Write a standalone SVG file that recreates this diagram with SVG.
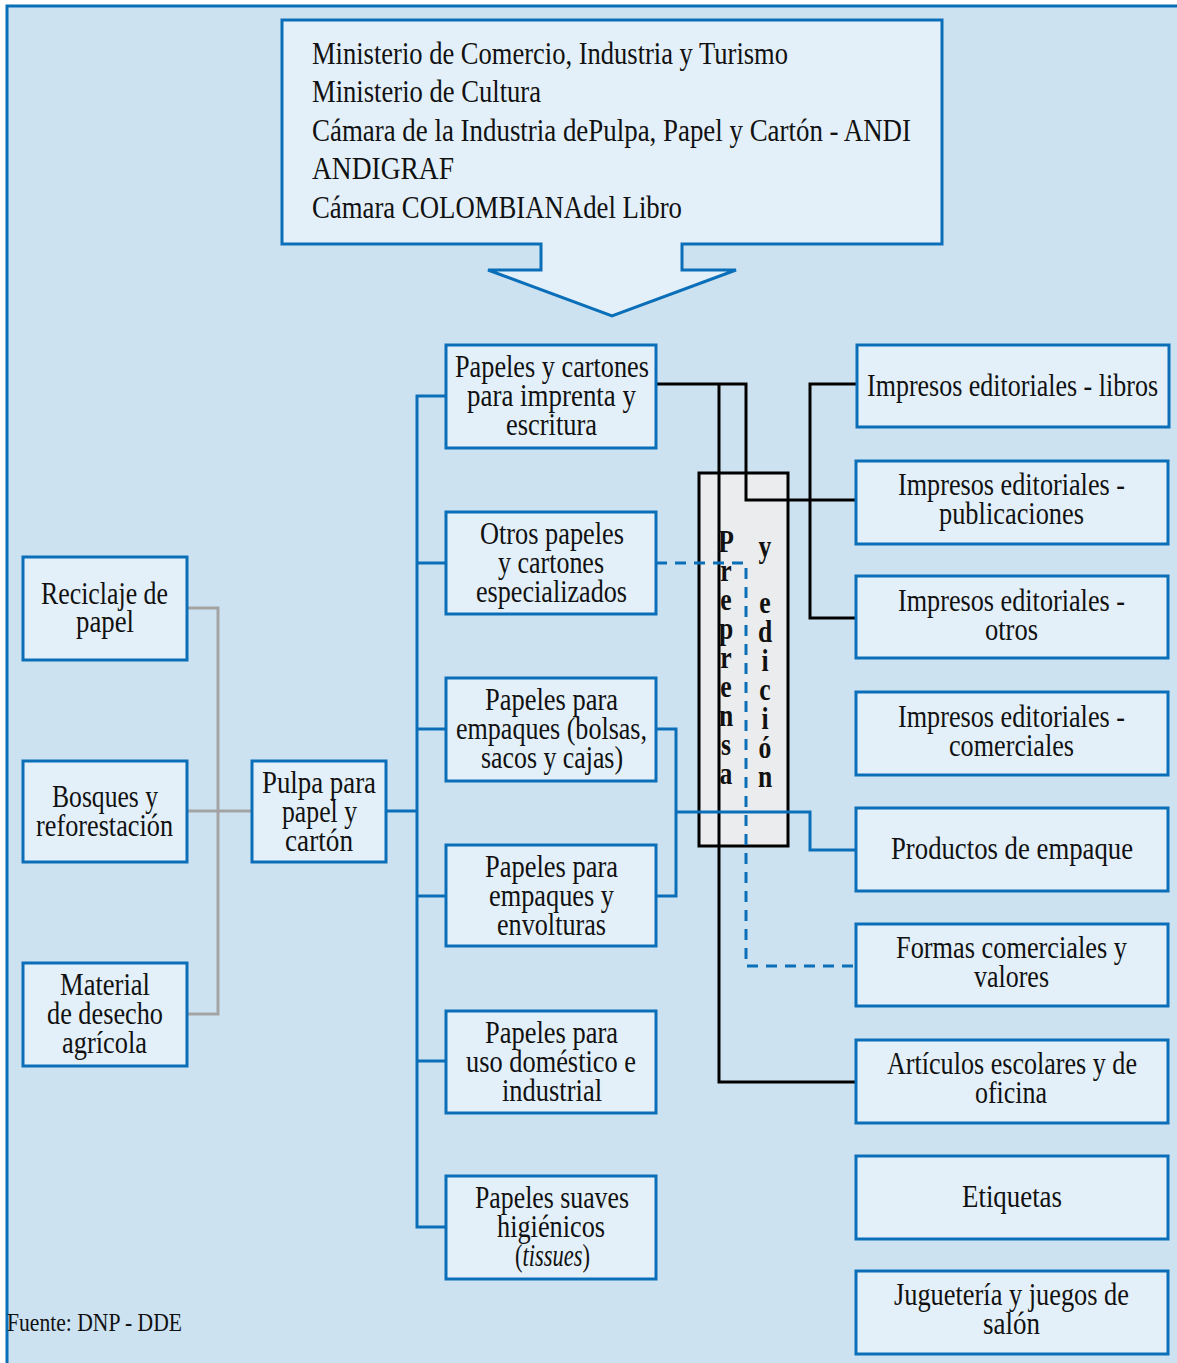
<svg xmlns="http://www.w3.org/2000/svg" width="1177" height="1363" viewBox="0 0 1177 1363">
<style>
.bg{fill:#cce2f1;stroke:#0a6fb8;stroke-width:3}
.box{fill:#e3f0f9;stroke:#0a6fb8;stroke-width:3}
.t{font-family:"Liberation Serif","Times New Roman",serif;font-size:32px;fill:#111}
.ft{font-family:"Liberation Serif","Times New Roman",serif;font-size:26px;fill:#111}
.v{font-family:"Liberation Serif","Times New Roman",serif;font-size:32px;font-weight:bold;fill:#111;text-anchor:middle}
.gray{fill:none;stroke:#a3a3a3;stroke-width:3}
.blue{fill:none;stroke:#0a6fb8;stroke-width:3}
.dash{fill:none;stroke:#0a6fb8;stroke-width:3;stroke-dasharray:11 8}
.black{fill:none;stroke:#000;stroke-width:3}
</style>
<rect x="0" y="0" width="1177" height="1363" fill="#ffffff"/>
<path class="bg" d="M7,1365 V6 H1180 V1365 Z"/>

<g id="instituciones">
<path class="box" d="M282,20 H942 V244 H682 V270 H736 L612,316 L488,270 H541 V244 H282 Z"/>
<text class="t" x="312" y="64" textLength="476" lengthAdjust="spacingAndGlyphs">Ministerio de Comercio, Industria y Turismo</text>
<text class="t" x="312" y="102" textLength="229" lengthAdjust="spacingAndGlyphs">Ministerio de Cultura</text>
<text class="t" x="312" y="141" textLength="599" lengthAdjust="spacingAndGlyphs">Cámara de la Industria dePulpa, Papel y Cartón - ANDI</text>
<text class="t" x="312" y="179" textLength="142" lengthAdjust="spacingAndGlyphs">ANDIGRAF</text>
<text class="t" x="312" y="218" textLength="370" lengthAdjust="spacingAndGlyphs">Cámara COLOMBIANAdel Libro</text>
</g>

<g id="prepensa-caja">
<rect x="699" y="473" width="89" height="373" fill="#ebeced" stroke="#000" stroke-width="3"/>
</g>

<g id="connectors">
<path class="gray" d="M187,608 H218 V1014 H187 M187,811 H252"/>
<path class="blue" d="M386,811 H417 M446,396 H417 V1227 H446 M417,563 H446 M417,729 H446 M417,896 H446 M417,1061 H446"/>
<path class="black" d="M656,384 H746 V500 H856 M719,384 V1082 H856 M856,384 H810 V618 H856"/>
<path class="dash" d="M656,563 H746 V966 H856"/>
<path class="blue" d="M656,729 H676 V896 H656 M676,812 H810 V850 H856"/>
</g>

<g id="prepensa-texto">
<g transform="translate(726,0) scale(0.8,1)">
<text class="v" x="0" y="552">P</text>
<text class="v" x="0" y="581">r</text>
<text class="v" x="0" y="610">e</text>
<text class="v" x="0" y="639">p</text>
<text class="v" x="0" y="668">r</text>
<text class="v" x="0" y="697">e</text>
<text class="v" x="0" y="726">n</text>
<text class="v" x="0" y="755">s</text>
<text class="v" x="0" y="784">a</text>
</g>
<g transform="translate(765,0) scale(0.8,1)">
<text class="v" x="0" y="557">y</text>
<text class="v" x="0" y="613">e</text>
<text class="v" x="0" y="642">d</text>
<text class="v" x="0" y="671">i</text>
<text class="v" x="0" y="700">c</text>
<text class="v" x="0" y="729">i</text>
<text class="v" x="0" y="758">ó</text>
<text class="v" x="0" y="787">n</text>
</g>
</g>

<g id="reciclaje">
<rect class="box" x="23" y="557" width="164" height="103"/>
<text class="t" x="41" y="604" textLength="127" lengthAdjust="spacingAndGlyphs">Reciclaje de</text>
<text class="t" x="76" y="632" textLength="58" lengthAdjust="spacingAndGlyphs">papel</text>
</g>
<g id="bosques">
<rect class="box" x="23" y="761" width="164" height="101"/>
<text class="t" x="52" y="807" textLength="106" lengthAdjust="spacingAndGlyphs">Bosques y</text>
<text class="t" x="36" y="836" textLength="137" lengthAdjust="spacingAndGlyphs">reforestación</text>
</g>
<g id="material">
<rect class="box" x="23" y="963" width="164" height="103"/>
<text class="t" x="60" y="995" textLength="90" lengthAdjust="spacingAndGlyphs">Material</text>
<text class="t" x="47" y="1024" textLength="116" lengthAdjust="spacingAndGlyphs">de desecho</text>
<text class="t" x="62" y="1053" textLength="85" lengthAdjust="spacingAndGlyphs">agrícola</text>
</g>
<g id="pulpa">
<rect class="box" x="252" y="761" width="134" height="101"/>
<text class="t" x="262" y="793" textLength="114" lengthAdjust="spacingAndGlyphs">Pulpa para</text>
<text class="t" x="282" y="822" textLength="75" lengthAdjust="spacingAndGlyphs">papel y</text>
<text class="t" x="285" y="851" textLength="68" lengthAdjust="spacingAndGlyphs">cartón</text>
</g>

<g id="papeles-imprenta">
<rect class="box" x="446" y="345" width="210" height="103"/>
<text class="t" x="455" y="377" textLength="194" lengthAdjust="spacingAndGlyphs">Papeles y cartones</text>
<text class="t" x="467" y="406" textLength="169" lengthAdjust="spacingAndGlyphs">para imprenta y</text>
<text class="t" x="506" y="435" textLength="91" lengthAdjust="spacingAndGlyphs">escritura</text>
</g>
<g id="otros-papeles">
<rect class="box" x="446" y="512" width="210" height="102"/>
<text class="t" x="480" y="544" textLength="144" lengthAdjust="spacingAndGlyphs">Otros papeles</text>
<text class="t" x="498" y="573" textLength="106" lengthAdjust="spacingAndGlyphs">y cartones</text>
<text class="t" x="476" y="602" textLength="151" lengthAdjust="spacingAndGlyphs">especializados</text>
</g>
<g id="papeles-empaques-bolsas">
<rect class="box" x="446" y="678" width="210" height="103"/>
<text class="t" x="485" y="710" textLength="133" lengthAdjust="spacingAndGlyphs">Papeles para</text>
<text class="t" x="456" y="739" textLength="191" lengthAdjust="spacingAndGlyphs">empaques (bolsas,</text>
<text class="t" x="481" y="768" textLength="142" lengthAdjust="spacingAndGlyphs">sacos y cajas)</text>
</g>
<g id="papeles-empaques-envolturas">
<rect class="box" x="446" y="845" width="210" height="101"/>
<text class="t" x="485" y="877" textLength="133" lengthAdjust="spacingAndGlyphs">Papeles para</text>
<text class="t" x="489" y="906" textLength="125" lengthAdjust="spacingAndGlyphs">empaques y</text>
<text class="t" x="497" y="935" textLength="109" lengthAdjust="spacingAndGlyphs">envolturas</text>
</g>
<g id="papeles-domestico">
<rect class="box" x="446" y="1011" width="210" height="102"/>
<text class="t" x="485" y="1043" textLength="133" lengthAdjust="spacingAndGlyphs">Papeles para</text>
<text class="t" x="466" y="1072" textLength="170" lengthAdjust="spacingAndGlyphs">uso doméstico e</text>
<text class="t" x="502" y="1101" textLength="100" lengthAdjust="spacingAndGlyphs">industrial</text>
</g>
<g id="papeles-suaves">
<rect class="box" x="446" y="1176" width="210" height="103"/>
<text class="t" x="475" y="1208" textLength="154" lengthAdjust="spacingAndGlyphs">Papeles suaves</text>
<text class="t" x="497" y="1237" textLength="108" lengthAdjust="spacingAndGlyphs">higiénicos</text>
<text class="t" x="515" y="1266" textLength="75" lengthAdjust="spacingAndGlyphs">(<tspan font-style="italic">tissues</tspan>)</text>
</g>

<g id="impresos-libros">
<rect class="box" x="857" y="345" width="312" height="82"/>
<text class="t" x="867" y="396" textLength="291" lengthAdjust="spacingAndGlyphs">Impresos editoriales - libros</text>
</g>
<g id="impresos-publicaciones">
<rect class="box" x="856" y="461" width="312" height="83"/>
<text class="t" x="898" y="495" textLength="227" lengthAdjust="spacingAndGlyphs">Impresos editoriales -</text>
<text class="t" x="939" y="524" textLength="145" lengthAdjust="spacingAndGlyphs">publicaciones</text>
</g>
<g id="impresos-otros">
<rect class="box" x="856" y="576" width="312" height="82"/>
<text class="t" x="898" y="611" textLength="227" lengthAdjust="spacingAndGlyphs">Impresos editoriales -</text>
<text class="t" x="985" y="640" textLength="53" lengthAdjust="spacingAndGlyphs">otros</text>
</g>
<g id="impresos-comerciales">
<rect class="box" x="856" y="692" width="312" height="83"/>
<text class="t" x="898" y="727" textLength="227" lengthAdjust="spacingAndGlyphs">Impresos editoriales -</text>
<text class="t" x="949" y="756" textLength="125" lengthAdjust="spacingAndGlyphs">comerciales</text>
</g>
<g id="productos-empaque">
<rect class="box" x="856" y="808" width="312" height="83"/>
<text class="t" x="891" y="859" textLength="242" lengthAdjust="spacingAndGlyphs">Productos de empaque</text>
</g>
<g id="formas-comerciales">
<rect class="box" x="856" y="924" width="312" height="82"/>
<text class="t" x="896" y="958" textLength="231" lengthAdjust="spacingAndGlyphs">Formas comerciales y</text>
<text class="t" x="974" y="987" textLength="75" lengthAdjust="spacingAndGlyphs">valores</text>
</g>
<g id="articulos-escolares">
<rect class="box" x="856" y="1040" width="312" height="83"/>
<text class="t" x="887" y="1074" textLength="250" lengthAdjust="spacingAndGlyphs">Artículos escolares y de</text>
<text class="t" x="975" y="1103" textLength="72" lengthAdjust="spacingAndGlyphs">oficina</text>
</g>
<g id="etiquetas">
<rect class="box" x="856" y="1156" width="312" height="83"/>
<text class="t" x="962" y="1207" textLength="100" lengthAdjust="spacingAndGlyphs">Etiquetas</text>
</g>
<g id="jugueteria">
<rect class="box" x="856" y="1271" width="312" height="83"/>
<text class="t" x="894" y="1305" textLength="235" lengthAdjust="spacingAndGlyphs">Juguetería y juegos de</text>
<text class="t" x="983" y="1334" textLength="57" lengthAdjust="spacingAndGlyphs">salón</text>
</g>

<g id="fuente">
<text class="ft" x="7" y="1331" textLength="175" lengthAdjust="spacingAndGlyphs">Fuente: DNP - DDE</text>
</g>
</svg>
